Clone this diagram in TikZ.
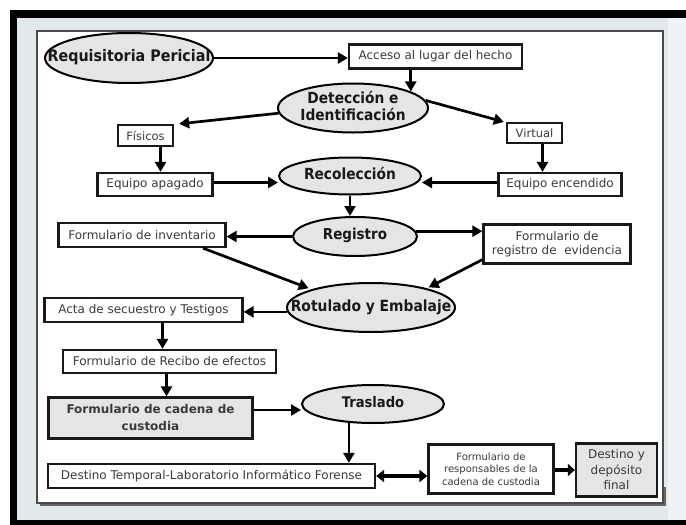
\documentclass[tikz,border=0pt]{standalone}
\usepackage{fontspec}
\setmainfont{DejaVu Sans}
\newfontfamily\ovalfont{DejaVu Sans}[FakeStretch=0.9]
\usetikzlibrary{arrows.meta,shapes.geometric}
\definecolor{panel}{HTML}{E2E9EC}
\definecolor{ovalfill}{HTML}{E5E5E5}
\definecolor{boxtext}{HTML}{3A3A3A}
\definecolor{framegray}{HTML}{4A4A4A}
% centred text that does not widen the ellipse around it
\newcommand\ovaltext[1]{\makebox[0pt]{\begin{tabular}{@{}c@{}}#1\end{tabular}}}
\newcommand\ovalsize[1]{\ovalfont\bfseries\fontsize{#1}{15.5}\selectfont}

\begin{document}
\begin{tikzpicture}[x=1pt,y=-1pt,
  oval/.style={ellipse, draw=black, line width=2pt, fill=ovalfill,
    inner sep=0pt, text=black!90},
  box/.style={rectangle, draw=black!90, line width=2.3pt, fill=white,
    inner sep=0pt, align=center, text=boxtext,
    font=\fontsize{12}{14.5}\selectfont},
  graybox/.style={box, fill=ovalfill},
  arr/.style={line width=2.7pt, -{Triangle[length=10pt,width=11pt]}},
  dblarr/.style={line width=4pt, {Triangle[length=8pt,width=12pt]}-{Triangle[length=8pt,width=12pt]}},
  fatarr/.style={line width=4pt, -{Triangle[length=7pt,width=12pt]}},
]
\useasboundingbox (0,0) rectangle (686,525);

% page frame
\fill[white] (0,0) rectangle (686,525);
\fill[black] (10,10) rectangle (686,525);
\fill[panel] (17,18) rectangle (686,520);
\fill[panel!60!white] (668,18) rectangle (686,520);
\draw[framegray!85, line width=2pt] (40,505) -- (665,505) -- (665,487);
\draw[framegray, line width=1.5pt, fill=white] (37,31) rectangle (663,503);

% nodes
\node[oval, minimum width=168, minimum height=50, font=\ovalsize{15.9}]
  (req) at (129,58) {\ovaltext{Requisitoria Pericial}};
\node[box, minimum width=173, minimum height=24] (acc) at (435.5,56.5) {Acceso al lugar del hecho};
\node[oval, minimum width=150, minimum height=49, font=\ovalsize{15.3}]
  (det) at (353,108) {\ovaltext{Detección e\\Identificación}};
\node[box, minimum width=55, minimum height=21, font=\fontsize{11.5}{14}\selectfont] (fis) at (145.5,135.5) {Físicos};
\node[box, minimum width=55, minimum height=20, font=\fontsize{11.5}{14}\selectfont] (vir) at (534.5,133) {Virtual};
\node[box, minimum width=115, minimum height=23] (apa) at (155,184.5) {Equipo apagado};
\node[box, minimum width=123, minimum height=23] (enc) at (560,184.5) {Equipo encendido};
\node[oval, minimum width=142, minimum height=37, font=\ovalsize{15.3}]
  (rec) at (350,176) {\ovaltext{Recolección}};
\node[oval, minimum width=124, minimum height=39, font=\ovalsize{15}]
  (reg) at (355,236.5) {\ovaltext{Registro}};
\node[box, minimum width=167, minimum height=24] (inv) at (142,235) {Formulario de inventario};
\node[box, minimum width=147, minimum height=39] (evi) at (557,244) {Formulario de\\registro de\ \ evidencia};
\node[oval, minimum width=168, minimum height=49, font=\ovalsize{15.4}]
  (rot) at (371,307.5) {\ovaltext{Rotulado y Embalaje}};
\node[box, minimum width=198, minimum height=24] (act) at (143.5,310) {Acta de secuestro y Testigos};
\node[box, minimum width=213, minimum height=23] (rcb) at (169.5,361.5) {Formulario de Recibo de efectos};
\node[graybox, minimum width=204, minimum height=41, font=\bfseries\fontsize{12}{17}\selectfont]
  (cad) at (150.5,418) {Formulario de cadena de\\custodia};
\node[oval, minimum width=142, minimum height=38, font=\ovalsize{14.6}]
  (tra) at (373,404) {\ovaltext{Traslado}};
\node[box, minimum width=327, minimum height=24] (dtl) at (211.5,476) {Destino Temporal-Laboratorio Informático Forense};
\node[box, minimum width=125, minimum height=49, font=\fontsize{10}{12.5}\selectfont]
  (res) at (491,469) {Formulario de\\responsables de la\\cadena de custodia};
\node[graybox, minimum width=81, minimum height=53, font=\fontsize{12}{15.5}\selectfont]
  (fin) at (616.5,470) {Destino y\\depósito\\final};

% connectors
\draw[arr] (req.east) -- (req.east -| acc.west);
\draw[arr] (acc.south -| det.16) -- (det.16);
\draw[arr] (det.184) -- ([xshift=5pt]fis.north east);
\draw[arr] (det.6) -- ([xshift=-2pt]vir.north west);
\draw[arr] ([xshift=15pt]fis.south) -- ([xshift=15pt]fis.south |- apa.north);
\draw[arr] ([xshift=8pt]vir.south) -- ([xshift=8pt]vir.south |- enc.north);
\draw[arr] ([yshift=2pt]apa.east) -- ([yshift=2pt]apa.east -| rec.west);
\draw[arr] ([yshift=2pt]enc.west) -- ([yshift=2pt]enc.west -| rec.east);
\draw[arr] (rec.south) -- (rec.south |- reg.north);
\draw[arr] (reg.west) -- (reg.west -| inv.east);
\draw[arr] (reg.5) -- (reg.5 -| evi.west);
\draw[arr, shorten >=3pt] ([xshift=61pt]inv.south) -- (rot.163);
\draw[arr, shorten >=2pt] ([yshift=5pt]evi.south west) -- (rot.19);
\draw[arr] (rot.183) -- (rot.183 -| act.east);
\draw[arr] ([xshift=19pt]act.south) -- ([xshift=19pt]act.south |- rcb.north);
\draw[arr] ([xshift=-3pt]rcb.south) -- ([xshift=-3pt]rcb.south |- cad.north);
\draw[arr] ([yshift=8pt]cad.east) -- ([yshift=8pt]cad.east -| tra.west);
\draw[arr] (tra.218) -- (tra.218 |- dtl.north);
\draw[dblarr] (dtl.east) -- (dtl.east -| res.west);
\draw[fatarr] (fin.west -| res.east) -- (fin.west);
\end{tikzpicture}
\end{document}
